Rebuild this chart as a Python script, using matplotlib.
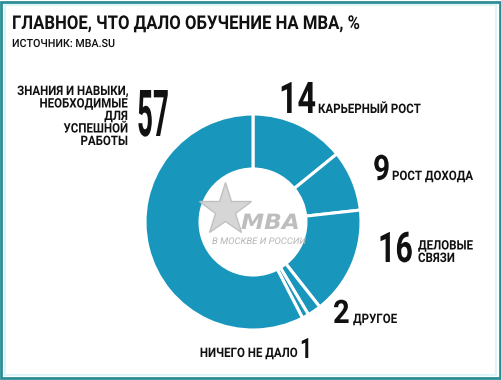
import matplotlib
matplotlib.use("Agg")
import matplotlib.pyplot as plt
from matplotlib.patches import Rectangle
from matplotlib.patheffects import AbstractPathEffect
from matplotlib.transforms import Affine2D

# ====== data ======
TITLE = "ГЛАВНОЕ, ЧТО ДАЛО ОБУЧЕНИЕ НА МВА, %"
SOURCE = "ИСТОЧНИК: MBA.SU"
labels = [
    "КАРЬЕРНЫЙ РОСТ",
    "РОСТ ДОХОДА",
    "ДЕЛОВЫЕ\nСВЯЗИ",
    "ДРУГОЕ",
    "НИЧЕГО НЕ ДАЛО",
    "ЗНАНИЯ И НАВЫКИ,\nНЕОБХОДИМЫЕ\nДЛЯ\nУСПЕШНОЙ\nРАБОТЫ",
]
values = [14, 9, 16, 2, 1, 57]

# ====== layout (pixels, from top-left) ======
W, H = 501, 380
CENTER = (253, 222)
R_OUT, R_IN = 108, 53
BLUE = "#1996bc"
INK = "#111111"
FONT = "Roboto"

# number: left x, baseline y, digit height, horizontal squeeze
num_pos = [(279, 113, 31, 0.74), (373, 180, 25, 0.85), (378, 262, 30, 0.72),
           (333, 323, 23, 0.9), (300, 358, 20, 0.75), (137, 136, 46, 0.43)]
# label: x, last baseline y, align
lab_pos = [(318, 113, "left"), (392, 180, "left"), (418, 262, "left"),
           (353, 323, "left"), (298, 357, "right"), (128, 145, "right")]
LINE_STEP = 12.5
LABEL_SX = 0.88


class Stretch(AbstractPathEffect):
    """ベースラインを基準に縦に伸ばす（テキストのまま）"""

    def __init__(self, sy, y0):
        super().__init__()
        self.sy = sy
        self.y0 = y0

    def draw_path(self, renderer, gc, tpath, affine, rgbFace=None):
        t = affine + Affine2D().translate(0, -self.y0).scale(1, self.sy).translate(0, self.y0)
        renderer.draw_path(gc, tpath, t, rgbFace)


def Y(y):
    return H - y


def px2pt(px):
    return px * 72 / 100


def text(x, y, s, cap_px, sx=1.0, **kw):
    # 横 sx 倍の細い字 = 小さい字を縦に 1/sx 倍
    # axes は図全体・ylim=(0, H) なので data y == 画面 y
    return ax.text(x, Y(y), s, va="baseline", fontsize=px2pt(cap_px * sx / 0.711),
                   path_effects=[Stretch(1 / sx, Y(y))], **kw)


fig = plt.figure(figsize=(W / 100, H / 100), dpi=100)
ax = fig.add_axes([0, 0, 1, 1])

ax.pie(values, colors=[BLUE] * len(values), startangle=90, counterclock=False,
       center=(CENTER[0], Y(CENTER[1])), radius=R_OUT,
       wedgeprops=dict(width=R_OUT - R_IN, edgecolor="white", linewidth=2.2))
ax.set_xlim(0, W)
ax.set_ylim(0, H)
ax.set_aspect("auto")
ax.axis("off")

# title
text(12, 29, TITLE, 13.5, sx=0.88, fontfamily=FONT, fontweight="bold", color=INK, ha="left")
text(12, 47, SOURCE, 8, sx=0.95, fontfamily=FONT, fontweight="medium", color=INK, ha="left")

# numbers
for v, (x, y, h, sx) in zip(values, num_pos):
    text(x, y, str(v), h, sx=sx, fontfamily=FONT, fontweight="bold", color=INK, ha="left")

# labels
for lab, (x, y, ha) in zip(labels, lab_pos):
    lines = lab.split("\n")
    for k, line in enumerate(reversed(lines)):
        text(x, y - k * LINE_STEP, line, 9.3, sx=LABEL_SX, fontfamily=FONT,
             fontweight="bold", color=INK, ha=ha)

# watermark
ax.plot(225, Y(210), marker="*", markersize=40, color="#d2d2d2",
        markeredgecolor="#bdbdbd", alpha=0.9)
text(241, 229, "MBA", 15, sx=1.1, fontfamily="DejaVu Sans", fontweight="bold",
     fontstyle="italic", color="#bdbdbd", ha="left")
text(212, 244, "В МОСКВЕ И РОССИИ", 6.5, sx=1.04, fontfamily=FONT, fontstyle="italic",
     color="#b5b5b5", ha="left")

# frame
fig.patches.append(Rectangle((0.002, 0.004), 0.996, 0.992, transform=fig.transFigure,
                             fill=False, edgecolor="#2b8e96", lw=2))
fig.patches.append(Rectangle((0.009, 0.013), 0.982, 0.974, transform=fig.transFigure,
                             fill=False, edgecolor="#dff4f6", lw=1.5))

fig.savefig("out.png", dpi=100)
